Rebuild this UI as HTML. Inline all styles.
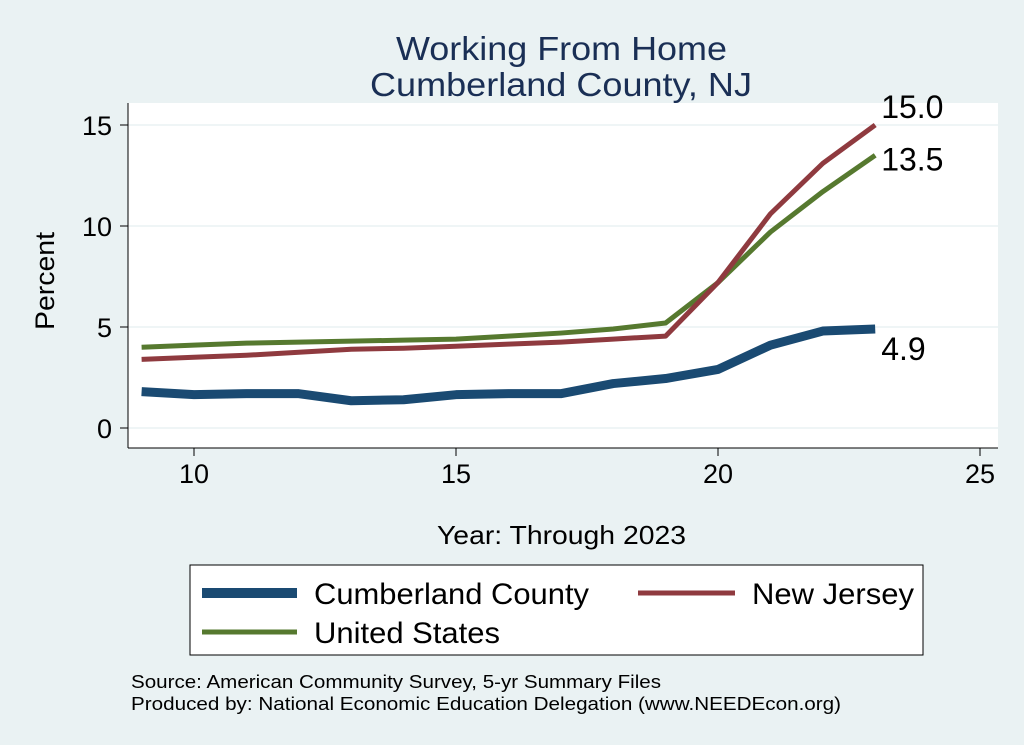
<!DOCTYPE html>
<html><head><meta charset="utf-8"><style>
body{margin:0;background:#eaf2f3;}
svg{display:block;font-family:"Liberation Sans",sans-serif;}
</style></head><body>
<svg id="chart" width="1024" height="745">
<rect x="0" y="0" width="1024" height="745" fill="#eaf2f3"/>
<text x="396" y="60" textLength="331" lengthAdjust="spacingAndGlyphs" font-size="33" fill="#1a2f55">Working From Home</text>
<text x="370" y="96" textLength="382" lengthAdjust="spacingAndGlyphs" font-size="33" fill="#1a2f55">Cumberland County, NJ</text>
<rect x="128" y="103" width="870" height="345" fill="#fff"/>
<g id="grid"></g><g id="axes"></g><g id="series"></g>
<text x="54" y="281" transform="rotate(-90 54 281)" text-anchor="middle" font-size="27" textLength="98" lengthAdjust="spacingAndGlyphs" fill="#000">Percent</text>
<text x="437" y="544" textLength="249" lengthAdjust="spacingAndGlyphs" font-size="26" fill="#000">Year: Through 2023</text>
<rect x="190" y="565" width="733" height="90" fill="#fff" stroke="#000" stroke-width="1"/>
<g><line x1="202" y1="593" x2="297" y2="593" stroke="#1a4a72" stroke-width="10"/><text x="314" y="604" font-size="30" textLength="275" lengthAdjust="spacingAndGlyphs">Cumberland County</text></g>
<g><line x1="638" y1="593" x2="735" y2="593" stroke="#8f3a3f" stroke-width="5"/><text x="752" y="604" font-size="30" textLength="162" lengthAdjust="spacingAndGlyphs">New Jersey</text></g>
<g><line x1="202" y1="632" x2="297" y2="632" stroke="#56792f" stroke-width="5"/><text x="314" y="643" font-size="30" textLength="186" lengthAdjust="spacingAndGlyphs">United States</text></g>
<text x="131" y="688" font-size="18" textLength="530" lengthAdjust="spacingAndGlyphs">Source: American Community Survey, 5-yr Summary Files</text>
<text x="131" y="710" font-size="18" textLength="710" lengthAdjust="spacingAndGlyphs">Produced by: National Economic Education Delegation (www.NEEDEcon.org)</text>
</svg>
<script>
const years=[9,10,11,12,13,14,15,16,17,18,19,20,21,22,23];
const cumberland=[1.8,1.65,1.7,1.7,1.35,1.4,1.65,1.7,1.7,2.2,2.45,2.9,4.1,4.8,4.9];
const newJersey=[3.4,3.5,3.6,3.75,3.9,3.95,4.05,4.15,4.25,4.4,4.55,7.2,10.6,13.1,15.0];
const unitedStates=[4.0,4.1,4.2,4.25,4.3,4.35,4.4,4.55,4.7,4.9,5.2,7.2,9.7,11.7,13.5];
const xTicks=[10,15,20,25];
const yTicks=[0,5,10,15];
const NS='http://www.w3.org/2000/svg';
const X=v=>194+(v-10)*52.4;
const Y=v=>428-v*20.2;
function mk(tag,attrs,parent){const e=document.createElementNS(NS,tag);for(const k in attrs)e.setAttribute(k,attrs[k]);parent.appendChild(e);return e;}
const grid=document.getElementById('grid'),axes=document.getElementById('axes'),series=document.getElementById('series');
yTicks.forEach(t=>{
 const g=mk('line',{x1:128,x2:998,y1:Y(t),y2:Y(t),stroke:'#eaf2f3','stroke-width':1.5},grid);
 
 
 mk('line',{x1:120,x2:128,y1:Y(t),y2:Y(t),stroke:'#000'},axes);
 const tx=mk('text',{x:112,y:Y(t)+10,'text-anchor':'end','font-size':27},axes);tx.textContent=t;
 
 
});
mk('line',{x1:128,x2:128,y1:103,y2:448,stroke:'#000'},axes);
mk('line',{x1:128,x2:998,y1:448,y2:448,stroke:'#000'},axes);
xTicks.forEach(t=>{
 mk('line',{x1:X(t),x2:X(t),y1:448,y2:456,stroke:'#000'},axes);
 const tx=mk('text',{x:X(t),y:483,'text-anchor':'middle','font-size':27},axes);tx.textContent=t;
 
 
});
function line(vals,color,w,name){
 const p=mk('polyline',{points:vals.map((v,i)=>X(years[i])+','+Y(v)).join(' '),fill:'none',stroke:color,'stroke-width':w,'stroke-linejoin':'round'},series);
 
 
}
line(cumberland,'#1a4a72',9,'line-cumberland');
line(unitedStates,'#56792f',5,'line-united-states');
line(newJersey,'#8f3a3f',5,'line-new-jersey');
const last=years.length-1;
[[newJersey,-7],[unitedStates,15],[cumberland,31]].forEach(([s,dy])=>{
 const tx=mk('text',{x:X(years[last])+6,y:Y(s[last])+dy,'font-size':32},series);
 tx.textContent=s[last].toFixed(1);
 
 
});
</script>
</body></html>
